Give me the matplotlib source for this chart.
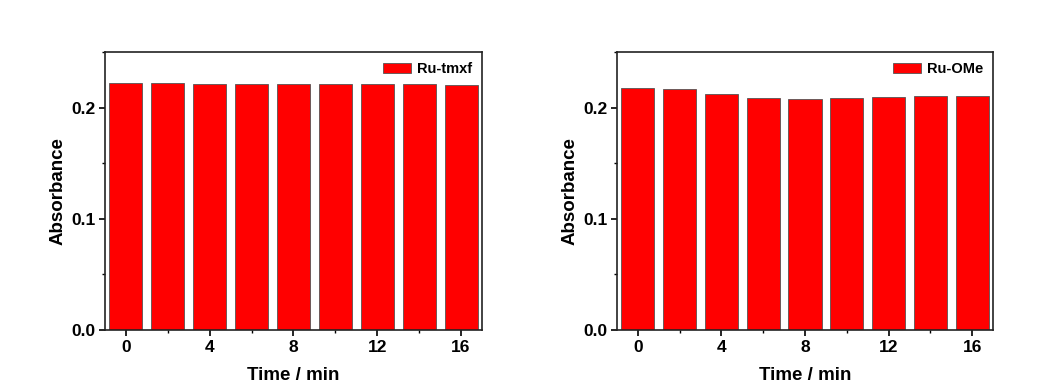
import matplotlib.pyplot as plt
from matplotlib.ticker import MultipleLocator

plt.rcParams['font.family'] = ['Liberation Sans', 'DejaVu Sans']
plt.rcParams['font.weight'] = 'bold'

# Time points (min)
times = [0, 2, 4, 6, 8, 10, 12, 14, 16]

# Absorbance readings for each complex
abs_tmxf = [0.222, 0.2222, 0.2212, 0.2215, 0.2215, 0.2210, 0.2210, 0.2210, 0.2205]
abs_ome = [0.2177, 0.2165, 0.2120, 0.2087, 0.2081, 0.2087, 0.2093, 0.2105, 0.2105]

labels = ['Ru-tmxf', 'Ru-OMe']


def draw_panel(ax, values, label):
    ax.bar(times, values, width=1.58, color='#ff0000', edgecolor='#555555',
           linewidth=0.6, label=label)
    ax.set_xlim(-1, 17)
    ax.set_ylim(0, 0.25)
    ax.xaxis.set_major_locator(MultipleLocator(4))
    ax.xaxis.set_minor_locator(MultipleLocator(2))
    ax.yaxis.set_major_locator(MultipleLocator(0.1))
    ax.yaxis.set_minor_locator(MultipleLocator(0.05))
    ax.tick_params(which='major', direction='out', length=4, width=1.2,
                   labelsize=12.5, pad=3)
    ax.tick_params(which='minor', direction='out', length=2.5, width=1.0)
    for s in ax.spines.values():
        s.set_linewidth(1.2)
        s.set_color('#222222')
    ax.set_xlabel('Time / min', fontsize=13.5, fontweight='bold', labelpad=9)
    ax.set_ylabel('Absorbance', fontsize=13.5, fontweight='bold', labelpad=3)
    ax.legend(loc='upper right', frameon=False, fontsize=10.5,
              handlelength=1.9, handleheight=0.7, handletextpad=0.4,
              borderaxespad=0.3)


fig = plt.figure(figsize=(10.54, 3.85), dpi=100)
ax1 = fig.add_axes([105 / 1054, 55 / 385, 377 / 1054, 278 / 385])
ax2 = fig.add_axes([617 / 1054, 55 / 385, 376 / 1054, 278 / 385])

draw_panel(ax1, abs_tmxf, labels[0])
draw_panel(ax2, abs_ome, labels[1])

fig.savefig('out.png', dpi=100)
